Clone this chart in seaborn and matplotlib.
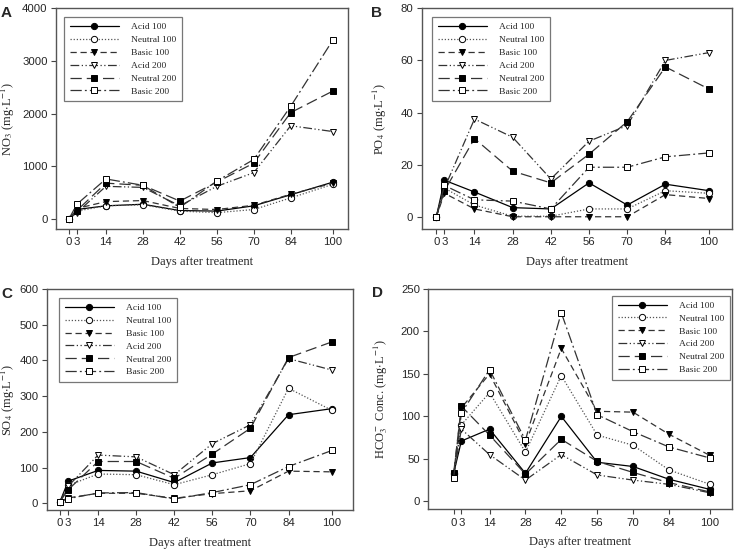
import numpy as np
import pandas as pd
import matplotlib
matplotlib.use("Agg")
import matplotlib.pyplot as plt
import seaborn as sns

# --- Data ---
DAYS = [0, 3, 14, 28, 42, 56, 70, 84, 100]
SERIES = ["Acid 100", "Neutral 100", "Basic 100", "Acid 200", "Neutral 200", "Basic 200"]

no3_acid100 = [0, 180, 250, 280, 160, 150, 250, 460, 700]
no3_neutral100 = [0, 150, 250, 270, 150, 120, 180, 400, 660]
no3_basic100 = [0, 200, 330, 350, 200, 180, 260, 470, 680]
no3_acid200 = [0, 120, 620, 600, 250, 620, 880, 1770, 1660]
no3_neutral200 = [0, 160, 680, 640, 340, 700, 1060, 2020, 2430]
no3_basic200 = [0, 280, 760, 640, 220, 720, 1130, 2140, 3400]

po4_acid100 = [0, 14, 9.5, 3.5, 3, 13, 4.5, 12.5, 10]
po4_neutral100 = [0, 11, 4.5, 0.2, 0.2, 3, 3, 10, 9]
po4_basic100 = [0, 9, 3, 0, 0, 0, 0, 8.5, 7]
po4_acid200 = [0, 11, 37.5, 30.5, 14.5, 29, 35, 60, 63]
po4_neutral200 = [0, 10, 30, 17.5, 13, 24, 36.5, 57.5, 49]
po4_basic200 = [0, 12, 6.5, 6, 3, 19, 19, 23, 24.5]

so4_acid100 = [5, 62, 92, 90, 58, 113, 128, 248, 265]
so4_neutral100 = [3, 50, 82, 80, 52, 80, 111, 322, 260]
so4_basic100 = [5, 15, 28, 28, 14, 27, 35, 90, 88]
so4_acid200 = [5, 48, 135, 130, 80, 167, 220, 405, 373]
so4_neutral200 = [5, 38, 117, 117, 70, 138, 210, 408, 452]
so4_basic200 = [4, 13, 29, 30, 12, 30, 52, 103, 148]

hco3_acid100 = [33, 71, 85, 33, 100, 46, 41, 26, 14]
hco3_neutral100 = [32, 90, 128, 58, 148, 78, 66, 37, 20]
hco3_basic100 = [32, 110, 150, 68, 180, 106, 105, 79, 54]
hco3_acid200 = [30, 85, 55, 25, 55, 31, 25, 20, 10]
hco3_neutral200 = [33, 112, 78, 32, 73, 47, 34, 22, 11]
hco3_basic200 = [28, 104, 155, 72, 222, 102, 82, 64, 51]

PANELS = [
    ("A", r"NO$_3$ (mg$\cdot$L$^{-1}$)",
     [no3_acid100, no3_neutral100, no3_basic100, no3_acid200, no3_neutral200, no3_basic200],
     [0, 1000, 2000, 3000, 4000]),
    ("B", r"PO$_4$ (mg$\cdot$L$^{-1}$)",
     [po4_acid100, po4_neutral100, po4_basic100, po4_acid200, po4_neutral200, po4_basic200],
     [0, 20, 40, 60, 80]),
    ("C", r"SO$_4$ (mg$\cdot$L$^{-1}$)",
     [so4_acid100, so4_neutral100, so4_basic100, so4_acid200, so4_neutral200, so4_basic200],
     [0, 100, 200, 300, 400, 500, 600]),
    ("D", r"HCO$_3^-$ Conc. (mg$\cdot$L$^{-1}$)",
     [hco3_acid100, hco3_neutral100, hco3_basic100, hco3_acid200, hco3_neutral200, hco3_basic200],
     [0, 50, 100, 150, 200, 250]),
]

# --- Styles ---
STYLES = {
    "Acid 100": dict(color="black", ls="-", marker="o", mfc="black"),
    "Neutral 100": dict(color="#555555", ls=(0, (1, 1.5)), marker="o", mfc="white"),
    "Basic 100": dict(color="#333333", ls=(0, (5, 3)), marker="v", mfc="black"),
    "Acid 200": dict(color="#333333", ls=(0, (7, 2, 1, 2, 1, 2)), marker="v", mfc="white"),
    "Neutral 200": dict(color="#333333", ls=(0, (9, 4)), marker="s", mfc="black"),
    "Basic 200": dict(color="#333333", ls=(0, (9, 2.5, 1.5, 2.5)), marker="s", mfc="white"),
}

# axes rects in pixels: left, top, right, bottom ; xlim ; ylim
LAYOUT = [
    ((56, 8.3, 348, 229), (-4.9, 105.7), (-190, 4000)),
    ((421.7, 8.3, 731.7, 229), (-5.35, 108.3), (-4.7, 80)),
    ((46.7, 289, 352.7, 510), (-4.9, 107.6), (-18.8, 600)),
    ((428.3, 289, 731.7, 509.3), (-9.9, 108.5), (-9.4, 250)),
]
# right edge (pixel x) of the rotated y label
YLABEL_X = [17, 389, 17, 390]
LETTER_POS = [(1, 13), (371, 13), (1, 294), (372, 293)]
LEGEND_POS = [("upper left", (0.027, 0.96)), ("upper left", (0.034, 0.96)),
              ("upper left", (0.04, 0.96)), ("upper right", (0.995, 0.97))]

sns.set_theme(style="white")
plt.rcParams["mathtext.fontset"] = "stix"

W, H = 737, 550
fig = plt.figure(figsize=(W / 100, H / 100), dpi=100)

for i, (letter, ylabel, values, yticks) in enumerate(PANELS):
    (l, t, r, b), xlim, ylim = LAYOUT[i]
    ax = fig.add_axes([l / W, 1 - b / H, (r - l) / W, (b - t) / H])
    rows = []
    for name, vals in zip(SERIES, values):
        for d, v in zip(DAYS, vals):
            rows.append({"Day": d, "Value": v, "Series": name})
    df = pd.DataFrame(rows)
    for name in SERIES:
        st = STYLES[name]
        sns.lineplot(data=df[df["Series"] == name], x="Day", y="Value", ax=ax,
                     color=st["color"], linestyle=st["ls"], linewidth=0.9,
                     marker=st["marker"], markersize=4.5, markerfacecolor=st["mfc"],
                     markeredgecolor="black", markeredgewidth=0.7, label=name,
                     errorbar=None)
    ax.set_xlim(*xlim)
    ax.set_ylim(*ylim)
    ax.set_xticks(DAYS)
    ax.set_xticklabels([str(d) for d in DAYS], family="Liberation Sans", fontsize=8.2)
    ax.set_yticks(yticks)
    ax.set_yticklabels([str(y) for y in yticks], family="Liberation Sans", fontsize=8.2)
    ax.tick_params(axis="both", direction="out", length=3.5, width=0.8, color="#444444",
                   bottom=True, left=True, pad=2.5)
    for sp in ax.spines.values():
        sp.set_color("#555555")
        sp.set_linewidth(1.0)
    ax.set_xlabel("Days after treatment", family="Liberation Serif", fontsize=9, labelpad=6)
    ax.set_ylabel(ylabel, family="Liberation Serif", fontsize=9)
    ax.yaxis.set_label_coords((YLABEL_X[i] - l) / (r - l), 0.5)
    loc, anchor = LEGEND_POS[i]
    leg = ax.legend(loc=loc, bbox_to_anchor=anchor, borderaxespad=0, fancybox=False,
                    frameon=True, edgecolor="#555555", handlelength=5.2, handletextpad=1.3,
                    labelspacing=0.45, borderpad=0.6,
                    prop={"family": "Liberation Serif", "size": 6.8})
    leg.get_frame().set_linewidth(0.9)
    fig.text(LETTER_POS[i][0] / W, 1 - LETTER_POS[i][1] / H, letter, fontsize=11,
             fontweight="bold", family="Liberation Sans", ha="left", va="center")

fig.savefig("out.png", dpi=100)
